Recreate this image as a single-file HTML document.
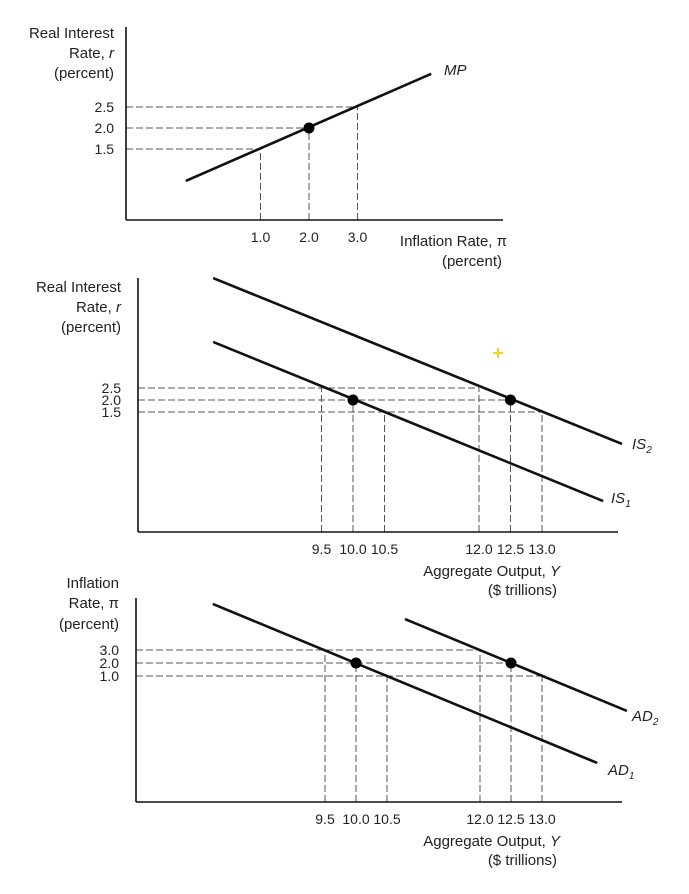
<!DOCTYPE html>
<html><head><meta charset="utf-8"><style>
html,body{margin:0;padding:0;background:#fff;}
svg{display:block;font-family:"Liberation Sans","DejaVu Sans",sans-serif;}
</style></head>
<body>
<svg id="chart" width="689" height="894" viewBox="0 0 689 894" xmlns="http://www.w3.org/2000/svg">
<g id="p1"></g>
<g id="p2"></g>
<g id="p3"></g>
<g stroke="#f2d21b" stroke-width="2"><line x1="493" y1="353" x2="503" y2="353"/><line x1="498" y1="348" x2="498" y2="358"/></g>
</svg>
<script>
// Panel 1: MP curve (inflation vs real rate)
const mpInfl = [-0.54, 4.52];
const mpRate = [0.74, 3.29];
const p1TickX = [1.0, 2.0, 3.0];
const p1TickY = [2.5, 2.0, 1.5];
const p1Guides = [[1.0, 1.5], [2.0, 2.0], [3.0, 2.5]];
const p1Dots = [[2.0, 2.0]];
// Panel 2: IS curves (output vs real rate)
const is1Y = [7.78, 13.97];
const is1R = [4.42, -2.21];
const is2Y = [7.78, 14.27];
const is2R = [7.08, 0.17];
const p2TickX = [9.5, 10.0, 10.5, 12.0, 12.5, 13.0];
const p2TickY = [2.5, 2.0, 1.5];
const p2Guides = [[9.5, 2.5], [10.0, 2.0], [10.5, 1.5], [12.0, 2.5], [12.5, 2.0], [13.0, 1.5]];
const p2Dots = [[10.0, 2.0], [12.5, 2.0]];
// Panel 3: AD curves (output vs inflation)
const ad1Y = [7.69, 13.89];
const ad1P = [6.54, -5.69];
const ad2Y = [10.79, 14.37];
const ad2P = [5.38, -1.69];
const p3TickX = [9.5, 10.0, 10.5, 12.0, 12.5, 13.0];
const p3TickY = [3.0, 2.0, 1.0];
const p3Guides = [[9.5, 3.0], [10.0, 2.0], [10.5, 1.0], [12.0, 3.0], [12.5, 2.0], [13.0, 1.0]];
const p3Dots = [[10.0, 2.0], [12.5, 2.0]];

const NS = "http://www.w3.org/2000/svg";
function mk(parent, tag, attrs, text) {
  const e = document.createElementNS(NS, tag);
  for (const k in attrs) e.setAttribute(k, attrs[k]);
  if (text !== undefined) e.textContent = text;
  parent.appendChild(e);
  return e;
}

function panel(g, cfg) {
  const sx = v => cfg.x0 + (v - cfg.xv0) * cfg.kx;
  const sy = v => cfg.y0 - (v - cfg.yv0) * cfg.ky;
  // guides
  cfg.guides.forEach(([a, b]) => {
    const h = mk(g, 'line', {x1: cfg.ax, y1: sy(b), x2: sx(a), y2: sy(b), stroke: '#555', 'stroke-width': 1, 'stroke-dasharray': '7,3'});
    
    
    const v = mk(g, 'line', {x1: sx(a), y1: cfg.ay, x2: sx(a), y2: sy(b), stroke: '#555', 'stroke-width': 1, 'stroke-dasharray': '7,3'});
    
    
  });
  // axes
  const ya = mk(g, 'line', {x1: cfg.ax, y1: cfg.atop, x2: cfg.ax, y2: cfg.ay, stroke: '#111', 'stroke-width': 1.6});
  
  
  const xa = mk(g, 'line', {x1: cfg.ax, y1: cfg.ay, x2: cfg.aright, y2: cfg.ay, stroke: '#111', 'stroke-width': 1.6});
  
  
  // ticks
  cfg.tickX.forEach(t => {
    const e = mk(g, 'text', {x: sx(t), y: cfg.ay + 22, 'text-anchor': 'middle', 'font-size': 14, fill: '#222'}, t.toFixed(1));
    
    
  });
  cfg.tickY.forEach(t => {
    const e = mk(g, 'text', {x: cfg.tyx, y: sy(t) + 5, 'text-anchor': 'end', 'font-size': 14, fill: '#222'}, t.toFixed(1));
    
    
  });
  // curves
  cfg.curves.forEach(c => {
    const l = mk(g, 'line', {x1: sx(c.xs[0]), y1: sy(c.ys[0]), x2: sx(c.xs[1]), y2: sy(c.ys[1]), stroke: '#111', 'stroke-width': 2.6});
    
    
  });
  // dots
  cfg.dots.forEach(([a, b]) => {
    const d = mk(g, 'circle', {cx: sx(a), cy: sy(b), r: 5.5, fill: '#000'});
    
    
  });
}

panel(document.getElementById('p1'), {
  x0: 309, xv0: 2, kx: 48.5, y0: 128, yv0: 2, ky: 42,
  ax: 126, ay: 220, atop: 27, aright: 503, tyx: 114,
  guides: p1Guides, tickX: p1TickX, tickY: p1TickY, dots: p1Dots,
  curves: [{xs: mpInfl, ys: mpRate, name: 'mp-curve'}]
});
panel(document.getElementById('p2'), {
  x0: 353, xv0: 10, kx: 63, y0: 400, yv0: 2, ky: 24,
  ax: 138, ay: 532, atop: 278, aright: 618, tyx: 121,
  guides: p2Guides, tickX: p2TickX, tickY: p2TickY, dots: p2Dots,
  curves: [{xs: is1Y, ys: is1R, name: 'is1-curve'}, {xs: is2Y, ys: is2R, name: 'is2-curve'}]
});
panel(document.getElementById('p3'), {
  x0: 356, xv0: 10, kx: 62, y0: 663, yv0: 2, ky: 13,
  ax: 136, ay: 802, atop: 598, aright: 622, tyx: 119,
  guides: p3Guides, tickX: p3TickX, tickY: p3TickY, dots: p3Dots,
  curves: [{xs: ad1Y, ys: ad1P, name: 'ad1-curve'}, {xs: ad2Y, ys: ad2P, name: 'ad2-curve'}]
});
</script>
<svg width="689" height="894" style="position:absolute;left:0;top:0;font-family:'Liberation Sans','DejaVu Sans',sans-serif;">
 <g font-size="15" fill="#222" text-anchor="end">
  <text x="114" y="38">Real Interest</text>
  <text x="114" y="58">Rate, <tspan font-style="italic">r</tspan></text>
  <text x="114" y="78">(percent)</text>
  <text x="507" y="246">Inflation Rate, π</text>
  <text x="502" y="266">(percent)</text>

  <text x="121" y="292">Real Interest</text>
  <text x="121" y="312">Rate, <tspan font-style="italic">r</tspan></text>
  <text x="121" y="332">(percent)</text>
  <text x="560" y="576">Aggregate Output, <tspan font-style="italic">Y</tspan></text>
  <text x="557" y="595">($ trillions)</text>

  <text x="119" y="588">Inflation</text>
  <text x="119" y="608">Rate, π</text>
  <text x="119" y="629">(percent)</text>
  <text x="560" y="846">Aggregate Output, <tspan font-style="italic">Y</tspan></text>
  <text x="557" y="865">($ trillions)</text>
 </g>
 <g font-size="15" fill="#222" font-style="italic">
  <text x="444" y="75">MP</text>
  <text x="632" y="449">IS<tspan font-size="10" dy="4">2</tspan></text>
  <text x="611" y="503">IS<tspan font-size="10" dy="4">1</tspan></text>
  <text x="632" y="721">AD<tspan font-size="10" dy="4">2</tspan></text>
  <text x="608" y="775">AD<tspan font-size="10" dy="4">1</tspan></text>
 </g>
</svg>
</body></html>
